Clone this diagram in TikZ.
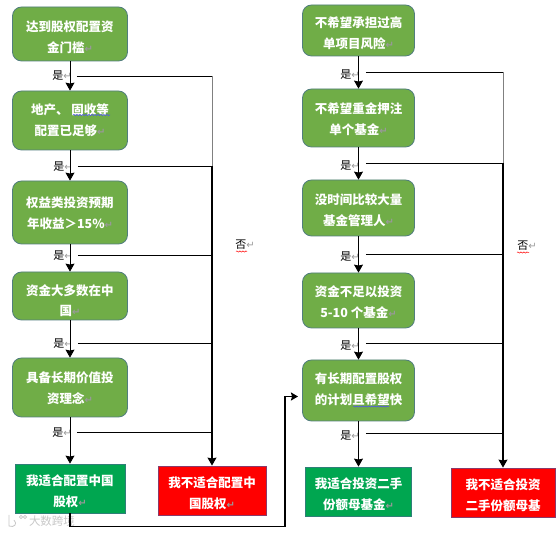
\documentclass[tikz,border=0pt]{standalone}
\usepackage{fontspec}
\usetikzlibrary{arrows.meta, decorations.pathmorphing}
\setmainfont{Noto Sans CJK SC}
\newfontfamily\retfont{DejaVu Sans}
\definecolor{boxgreen}{HTML}{70AD47}
\definecolor{boxedge}{HTML}{517E7E}
\definecolor{fitgreen}{HTML}{00A650}
\definecolor{fitedge}{HTML}{2F7F78}
\definecolor{nofitedge}{HTML}{8A3A6A}
\newcommand{\retmark}{{\retfont\fontsize{10}{10}\selectfont\textcolor{gray!80}{↵}}}
\begin{document}
\begin{tikzpicture}[
    x=1pt, y=-1pt,
    textdrop/.style={text height=#1, text depth=0pt},
    stepbox/.style={draw=boxedge, line width=0.8pt, fill=boxgreen, rounded corners=9pt, minimum width=115pt, text=white, align=center, font=\fontsize{12.5}{20.7}\selectfont\bfseries},
    fitbox/.style={draw=fitedge, line width=0.8pt, fill=fitgreen, text=white, align=center, font=\fontsize{12.5}{20.7}\selectfont\bfseries},
    nofitbox/.style={draw=nofitedge, line width=0.8pt, fill=red, text=white, align=center, font=\fontsize{12.5}{20.7}\selectfont\bfseries},
    yeslabel/.style={inner sep=0pt, font=\fontsize{11}{11}\selectfont},
    nolabel/.style={inner sep=0pt, font=\fontsize{11}{11}\selectfont},
    myflow/.style={-{Stealth[length=8pt,width=9pt,inset=1pt]}, line width=0.8pt},
    myline/.style={line width=0.8pt},
    trunk/.style={-{Stealth[length=8pt,width=9pt,inset=1pt]}, line width=1.3pt},
    spellmark/.style={line width=0.5pt, decorate, decoration={snake, amplitude=0.6pt, segment length=3pt}}
]
    \useasboundingbox (0, 0) rectangle (558, 534);

    % Watermark
    \node[text=black!22, inner sep=0pt, font=\fontsize{11.5}{11.5}\selectfont] (mark) at (52, 521.5) {大数跨境};
    \draw[black!22, line width=0.8pt] (9, 515) -- (9, 526) .. controls (14, 528) and (18, 524) .. (14, 520);
    \draw[black!22, line width=0.6pt] (21, 517) circle (1.6) (25, 517) circle (1.6);

    % Left column
    \node[stepbox, textdrop=37pt, minimum height=54pt] (a1) at (70, 34) {达到股权配置资\\金门槛\retmark};
    \node[stepbox, textdrop=30pt, minimum height=59pt] (a2) at (70, 120.5) {地产、 固收等\\配置已足够\retmark};
    \node[stepbox, textdrop=32pt, minimum height=63pt] (a3) at (70, 212.5) {权益类投资预期\\年收益＞15\%\retmark};
    \node[stepbox, textdrop=38.4pt, minimum height=48pt] (a4) at (70, 296) {资金大多数在中\\[-1pt]国\retmark};
    \node[stepbox, textdrop=32pt, minimum height=59pt] (a5) at (70, 387.5) {具备长期价值投\\资理念\retmark};
    \node[fitbox, textdrop=36pt, minimum width=110pt, minimum height=49pt] (afit) at (70, 488.5) {我适合配置中国\\股权\retmark};
    \node[nofitbox, textdrop=36pt, minimum width=108pt, minimum height=49pt] (anofit) at (212, 490.5) {我不适合配置中\\国股权\retmark};

    % Right column
    \node[stepbox, textdrop=36pt, minimum width=112pt, minimum height=51pt] (b1) at (358.5, 30.5) {不希望承担过高\\单项目风险\retmark};
    \node[stepbox, textdrop=33pt, minimum width=112pt, minimum height=58pt] (b2) at (358.5, 118) {不希望重金押注\\单个基金\retmark};
    \node[stepbox, textdrop=34.4pt, minimum width=112pt, minimum height=56pt] (b3) at (358.5, 208) {没时间比较大量\\基金管理人\retmark};
    \node[stepbox, textdrop=34pt, minimum width=112pt, minimum height=55pt] (b4) at (358.5, 300.5) {资金不足以投资\\5-10 个基金\retmark};
    \node[stepbox, textdrop=28pt, minimum width=112pt, minimum height=61pt] (b5) at (358.5, 390.5) {有长期配置股权\\的计划且希望快};
    \node[fitbox, textdrop=35.4pt, minimum width=106pt, minimum height=49pt] (bfit) at (358.5, 491.5) {我适合投资二手\\份额母基金\retmark};
    \node[nofitbox, textdrop=36pt, minimum width=104pt, minimum height=49pt] (bnofit) at (503, 492.5) {我不适合投资\\二手份额母基};

    % Yes labels
    \node[yeslabel] (y1) at (62, 76) {是\retmark};
    \node[yeslabel] (y2) at (63, 166.5) {是\retmark};
    \node[yeslabel] (y3) at (63, 255.5) {是\retmark};
    \node[yeslabel] (y4) at (63, 343.5) {是\retmark};
    \node[yeslabel] (y5) at (62, 432.5) {是\retmark};
    \node[yeslabel] (z1) at (350, 75) {是\retmark};
    \node[yeslabel] (z2) at (350, 166) {是\retmark};
    \node[yeslabel] (z3) at (350, 257) {是\retmark};
    \node[yeslabel] (z4) at (350, 346) {是\retmark};
    \node[yeslabel] (z5) at (350, 436) {是\retmark};

    % No labels
    \node[nolabel] (n1) at (245, 245) {否\retmark};
    \node[nolabel] (n2) at (527, 246) {否\retmark};

    % Spelling marks
    \draw[spellmark, blue!70] (73, 115) -- (110, 115);
    \draw[spellmark, blue!70] (353, 406.5) -- (389, 406.5);
    \draw[spellmark, red] (236, 251.5) -- (247, 251.5);
    \draw[spellmark, red] (517, 252.5) -- (529, 252.5);

    % Left flow
    \draw[myflow] (a1) -- (a2);
    \draw[myflow] (a2) -- (a3);
    \draw[myflow] (a3) -- (a4);
    \draw[myflow] (a4) -- (a5);
    \draw[myflow] (a5) -- (afit);
    \draw[myline] (y1.east) ++(5, 0) coordinate (c1) -- (c1 -| anofit.north);
    \draw[myline] (y2.east) ++(5, 0) coordinate (c2) -- (c2 -| anofit.north);
    \draw[myline] (y3.east) ++(5, 0) coordinate (c3) -- (c3 -| anofit.north);
    \draw[myline] (y4.east) ++(5, 0) coordinate (c4) -- (c4 -| anofit.north);
    \draw[myline] (y5.east) ++(5, 0) coordinate (c5) -- (c5 -| anofit.north);
    \draw[myline, black!50, line width=1pt] (c1 -| anofit.north) -- (c2 -| anofit.north);
    \draw[trunk] (c2 -| anofit.north) -- (anofit.north);

    % Right flow
    \draw[myflow] (b1) -- (b2);
    \draw[myflow] (b2) -- (b3);
    \draw[myflow] (b3) -- (b4);
    \draw[myflow] (b4) -- (b5);
    \draw[myflow] (b5) -- (bfit);
    \draw[myline] (z1.east) ++(6, -3) coordinate (d1) -- (d1 -| bnofit.north);
    \draw[myline] (z2.east) ++(6, -3) coordinate (d2) -- (d2 -| bnofit.north);
    \draw[myline] (z3.east) ++(6, -3) coordinate (d3) -- (d3 -| bnofit.north);
    \draw[myline] (z4.east) ++(6, -3) coordinate (d4) -- (d4 -| bnofit.north);
    \draw[myline] (z5.east) ++(6, -3) coordinate (d5) -- (d5 -| bnofit.north);
    \draw[myline, black!50, line width=1pt] (d1 -| bnofit.north) -- (d2 -| bnofit.north);
    \draw[trunk] (d2 -| bnofit.north) -- (bnofit.north);

    % Link between columns
    \coordinate (turn) at (285, 526.5);
    \coordinate (entry) at (298, 396.5);
    \draw[-{Stealth[length=7pt,width=8pt,inset=1pt]}, line width=1.5pt] (afit.south) |- (turn) -- (entry -| turn) -- (entry);
\end{tikzpicture}
\end{document}
